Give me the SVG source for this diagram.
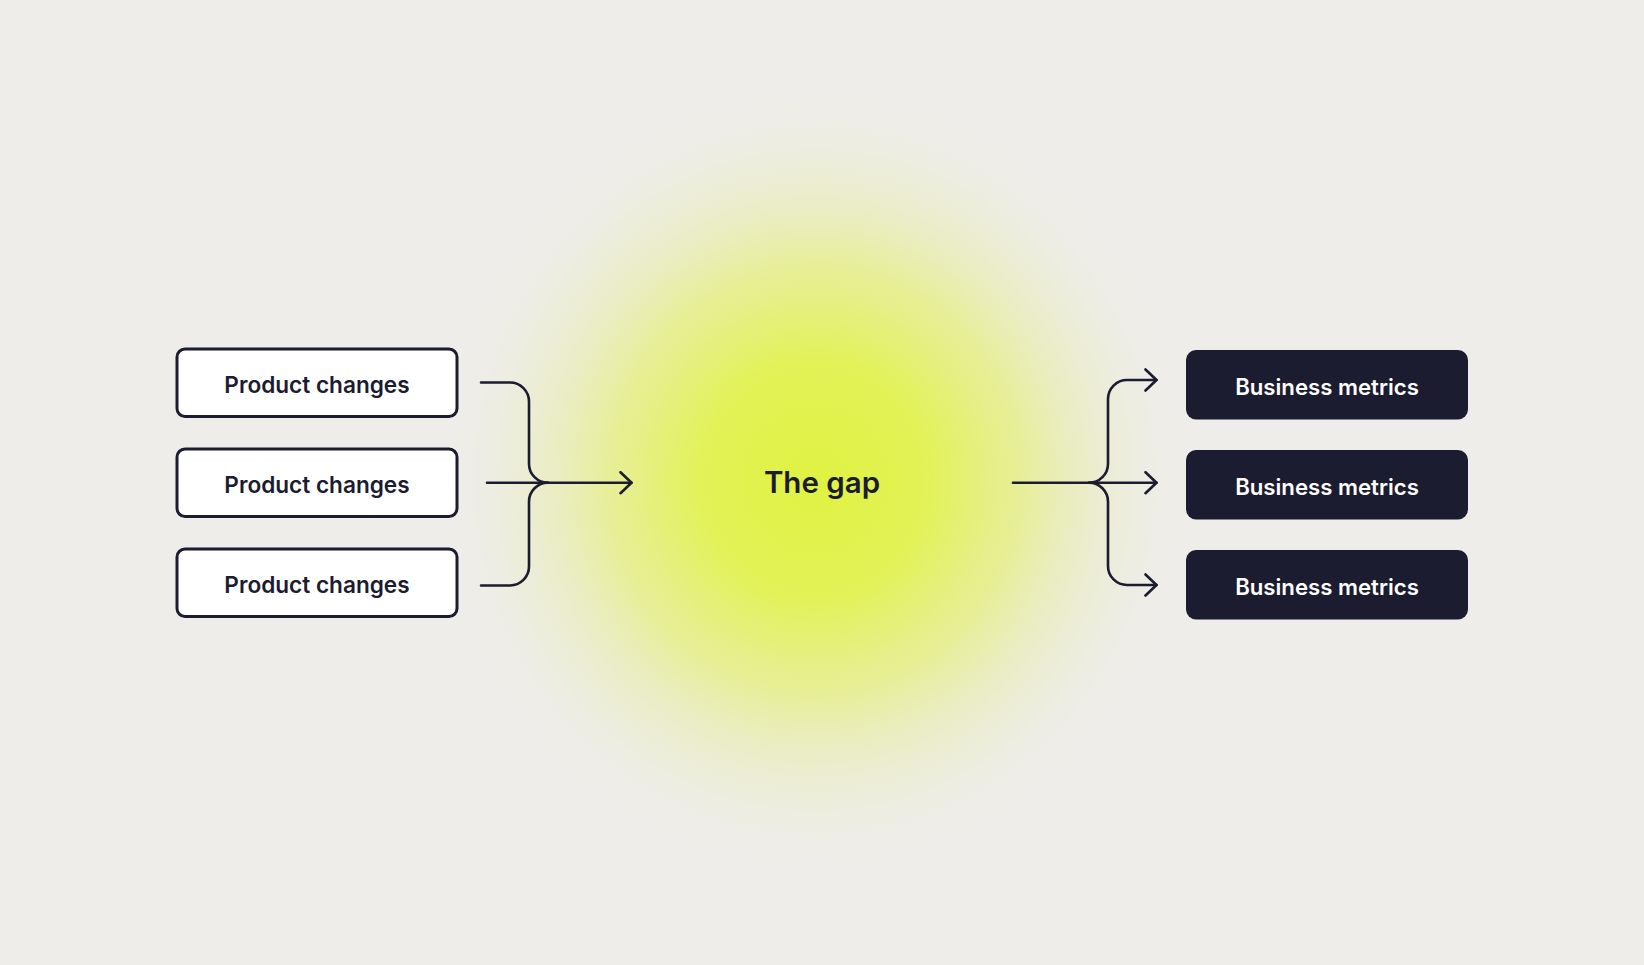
<svg xmlns="http://www.w3.org/2000/svg" width="1644" height="965" viewBox="0 0 1644 965">
  <style>
    .pbox { fill: #ffffff; stroke: #1c1c30; stroke-width: 3; }
    .bbox { fill: #1c1c30; }
    .plabel { font-family: Inter, "Noto Sans", "Liberation Sans", sans-serif; font-weight: 600; font-size: 22.6px; fill: #1c1c30; text-anchor: middle; }
    .blabel { font-family: Inter, "Noto Sans", "Liberation Sans", sans-serif; font-weight: 600; font-size: 22.2px; fill: #ffffff; text-anchor: middle; }
    .gap { font-family: Inter, "Noto Sans", "Liberation Sans", sans-serif; font-weight: 600; font-size: 29.5px; fill: #1c1c30; text-anchor: middle; }
    .conn { fill: none; stroke: #1c1c30; stroke-width: 2.6; stroke-linecap: round; stroke-linejoin: round; }
  </style>
  <defs>
    <radialGradient id="glow" cx="0.5" cy="0.5" r="0.5">
      <stop offset="0" stop-color="#e0f242" stop-opacity="1"/>
      <stop offset="0.3" stop-color="#e1f24a" stop-opacity="0.92"/>
      <stop offset="0.55" stop-color="#e3ef6c" stop-opacity="0.65"/>
      <stop offset="0.78" stop-color="#e7ecaa" stop-opacity="0.32"/>
      <stop offset="1" stop-color="#eeede9" stop-opacity="0"/>
    </radialGradient>
    <marker id="arrow" markerUnits="userSpaceOnUse" markerWidth="26" markerHeight="26" viewBox="0 0 26 26" refX="13" refY="12" orient="auto">
      <path d="M2 1.5 L13 12 L2 22.5" fill="none" stroke="#1c1c30" stroke-width="2.6" stroke-linecap="round" stroke-linejoin="round"/>
    </marker>
  </defs>
  <rect x="0" y="0" width="1644" height="965" fill="#eeede9"/>
  <ellipse cx="815" cy="480" rx="375" ry="390" fill="url(#glow)"/>

  <g id="connectors">
    <path class="conn" d="M481 382.5 H510 A19 19 0 0 1 529 401.5 V463.7 A19 19 0 0 0 548 482.7"/>
    <path class="conn" d="M481 585.5 H510 A19 19 0 0 0 529 566.5 V501.7 A19 19 0 0 1 548 482.7"/>
    <path class="conn" d="M487 482.7 H631.5" marker-end="url(#arrow)"/>
    <path class="conn" d="M1013 482.7 H1156.5" marker-end="url(#arrow)"/>
    <path class="conn" d="M1089 482.7 A19 19 0 0 0 1108 463.7 V399 A19 19 0 0 1 1127 380 H1156.5" marker-end="url(#arrow)"/>
    <path class="conn" d="M1089 482.7 A19 19 0 0 1 1108 501.7 V566 A19 19 0 0 0 1127 585 H1156.5" marker-end="url(#arrow)"/>
  </g>

  <g id="product1">
    <rect class="pbox" x="177" y="349" width="280" height="67.5" rx="8"/>
    <text class="plabel" x="317" y="392.5">Product changes</text>
  </g>
  <g id="product2">
    <rect class="pbox" x="177" y="449" width="280" height="67.5" rx="8"/>
    <text class="plabel" x="317" y="492.5">Product changes</text>
  </g>
  <g id="product3">
    <rect class="pbox" x="177" y="549" width="280" height="67.5" rx="8"/>
    <text class="plabel" x="317" y="592.5">Product changes</text>
  </g>

  <g id="gap">
    <text class="gap" x="822" y="493">The gap</text>
  </g>

  <g id="metrics1">
    <rect class="bbox" x="1186" y="350" width="282" height="69.5" rx="10"/>
    <text class="blabel" x="1327" y="394.5">Business metrics</text>
  </g>
  <g id="metrics2">
    <rect class="bbox" x="1186" y="450" width="282" height="69.5" rx="10"/>
    <text class="blabel" x="1327" y="494.5">Business metrics</text>
  </g>
  <g id="metrics3">
    <rect class="bbox" x="1186" y="550" width="282" height="69.5" rx="10"/>
    <text class="blabel" x="1327" y="594.5">Business metrics</text>
  </g>
</svg>
